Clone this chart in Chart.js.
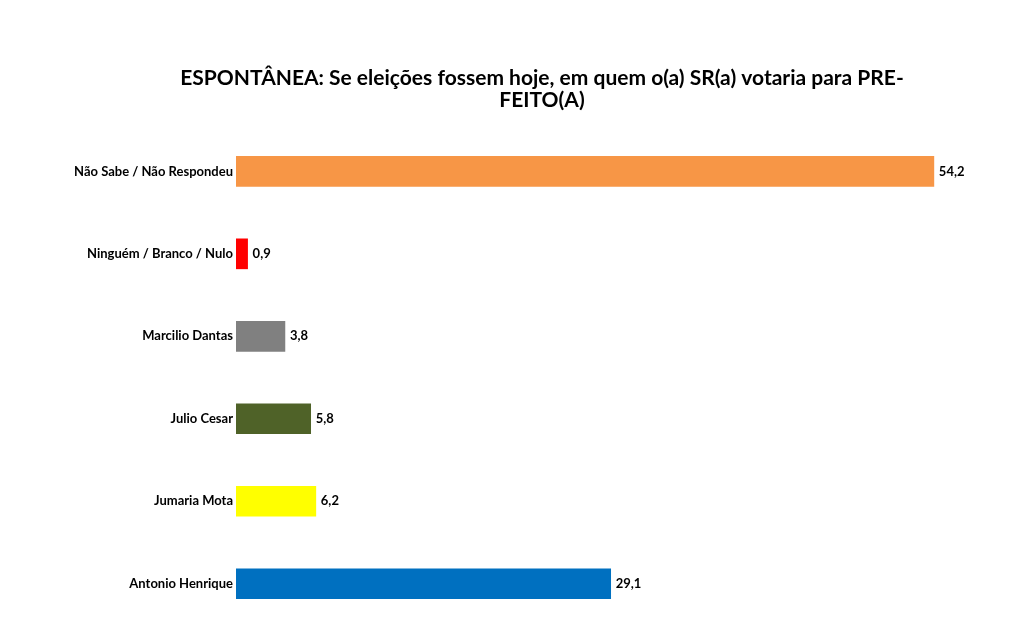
<!DOCTYPE html>
<html>
<head>
<meta charset="utf-8">
<script src="https://cdn.jsdelivr.net/npm/chart.js@4.4.0/dist/chart.umd.min.js"></script>
<style>
  html, body { margin: 0; padding: 0; background: #fff; }
  #wrap { width: 1024px; height: 625px; position: relative; }
</style>
</head>
<body>
<div id="wrap"><canvas id="myChart"></canvas></div>
<script>
// Kategorien und Werte (von oben nach unten)
const categories = [
    "Não Sabe / Não Respondeu",
    "Ninguém / Branco / Nulo",
    "Marcilio Dantas",
    "Julio Cesar",
    "Jumaria Mota",
    "Antonio Henrique"
];
const values = [54.2, 0.9, 3.8, 5.8, 6.2, 29.1];
const barColors = ["#F79646", "#FF0000", "#808080", "#4F6228", "#FFFF00", "#0070C0"];
const titleLines = [
    "ESPONTÂNEA: Se eleições fossem hoje, em quem o(a) SR(a) votaria para PRE-",
    "FEITO(A)"
];

const fontFamily = "Lato, 'Open Sans', sans-serif";

// Werte rechts neben die Balken schreiben
const valueLabels = {
    id: 'valueLabels',
    afterDatasetsDraw(chart) {
        const ctx = chart.ctx;
        const meta = chart.getDatasetMeta(0);
        ctx.save();
        ctx.font = "bold 13px " + fontFamily;
        ctx.fillStyle = "#000";
        ctx.textAlign = "left";
        ctx.textBaseline = "middle";
        meta.data.forEach((bar, i) => {
            const txt = values[i].toFixed(1).replace('.', ',');
            ctx.fillText(txt, bar.x + 5, bar.y);
        });
        ctx.restore();
    }
};

const ctx = document.getElementById('myChart').getContext('2d');
new Chart(ctx, {
    type: 'bar',
    data: {
        labels: categories,
        datasets: [{
            data: values,
            backgroundColor: barColors,
            borderWidth: 0,
            barThickness: 30
        }]
    },
    options: {
        indexAxis: 'y',
        responsive: true,
        maintainAspectRatio: false,
        animation: false,
        layout: {
            padding: { left: 60, right: 0, top: 0, bottom: 0 }
        },
        scales: {
            x: {
                display: false,
                min: 0,
                max: 61.2
            },
            y: {
                grid: { display: false, drawTicks: false },
                border: { display: false },
                ticks: {
                    color: "#000",
                    padding: 3,
                    font: { family: fontFamily, size: 13, weight: 'bold' }
                },
                afterFit(scale) {
                    scale.width = 176;
                    scale.paddingTop = 0;
                    scale.paddingBottom = 0;
                }
            }
        },
        plugins: {
            legend: { display: false },
            tooltip: { enabled: false },
            title: {
                display: true,
                text: titleLines,
                color: "#000",
                font: { family: fontFamily, size: 21, weight: 'bold', lineHeight: 1.05 },
                padding: { top: 67, bottom: 19 }
            }
        }
    },
    plugins: [valueLabels]
});
</script>
</body>
</html>
